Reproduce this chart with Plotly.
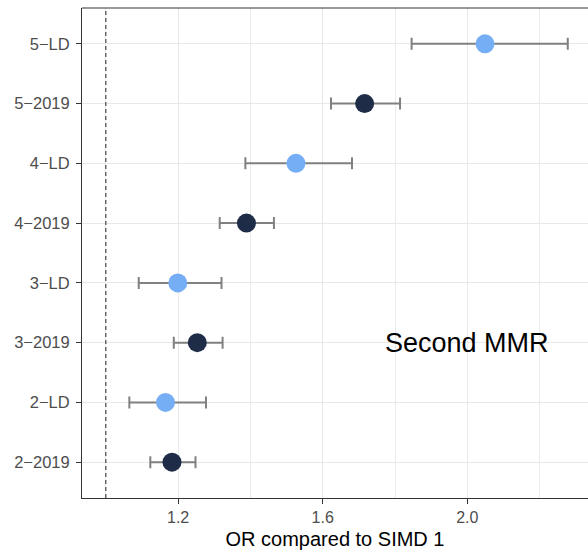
import plotly.graph_objects as go

# Odds ratios (with 95% CI) for second MMR uptake by SIMD quintile, vs SIMD 1
categories = ["2−2019", "2−LD", "3−2019", "3−LD", "4−2019", "4−LD", "5−2019", "5−LD"]
period = ["2019", "LD", "2019", "LD", "2019", "LD", "2019", "LD"]
or_est = [1.183, 1.165, 1.253, 1.199, 1.389, 1.526, 1.716, 2.049]
ci_low = [1.123, 1.065, 1.188, 1.091, 1.315, 1.386, 1.623, 1.846]
ci_high = [1.248, 1.277, 1.323, 1.320, 1.465, 1.681, 1.814, 2.278]

x_ticks = [1.2, 1.6, 2.0]
reference_or = 1.0

colours = {"2019": "#1F2C47", "LD": "#76AEF5"}

positions = list(range(1, len(categories) + 1))

fig = go.Figure()
for grp in ["2019", "LD"]:
    idx = [i for i, p in enumerate(period) if p == grp]
    fig.add_trace(go.Scatter(
        x=[or_est[i] for i in idx],
        y=[positions[i] for i in idx],
        mode="markers",
        marker=dict(size=19, color=colours[grp], line=dict(width=0)),
        error_x=dict(
            type="data", symmetric=False,
            array=[ci_high[i] - or_est[i] for i in idx],
            arrayminus=[or_est[i] - ci_low[i] for i in idx],
            color="#808080", thickness=2, width=6,
        ),
        showlegend=False,
        hoverinfo="skip",
    ))

# Dashed reference line at OR = 1
fig.add_shape(type="line", x0=reference_or, x1=reference_or, y0=0, y1=1,
              xref="x", yref="paper",
              line=dict(color="#222222", width=1, dash="4px,3px"))
# Top panel border
fig.add_shape(type="line", x0=0, x1=1, y0=1, y1=1, xref="paper", yref="paper",
              line=dict(color="#333333", width=1))

fig.add_annotation(x=2.0, y=3, xref="x", yref="y", text="Second MMR",
                   showarrow=False, font=dict(size=27, color="black"),
                   xanchor="center", yanchor="middle")

fig.update_xaxes(
    range=[0.934, 2.334],
    tickmode="array", tickvals=x_ticks, ticktext=[f"{v:.1f}" for v in x_ticks],
    showgrid=True, gridcolor="#E8E8E8", gridwidth=1.3,
    minor=dict(tickvals=[1.0, 1.4, 1.8, 2.2], showgrid=True,
               gridcolor="#EBEBEB", gridwidth=0.8, ticklen=0),
    showline=True, linecolor="#333333", linewidth=1,
    ticks="outside", ticklen=5, tickcolor="#333333", tickwidth=1,
    tickfont=dict(size=16, color="#4D4D4D"),
    zeroline=False,
    title=dict(text="OR compared to SIMD 1", font=dict(size=20, color="black"),
               standoff=6),
)
fig.update_yaxes(
    range=[0.4, 8.6],
    tickmode="array", tickvals=positions, ticktext=categories,
    showgrid=True, gridcolor="#E8E8E8", gridwidth=1.3,
    showline=True, linecolor="#333333", linewidth=1,
    ticks="outside", ticklen=5, tickcolor="#333333", tickwidth=1,
    ticklabelstandoff=3,
    tickfont=dict(size=16.5, color="#4D4D4D"),
    zeroline=False,
)

fig.update_layout(
    width=588, height=560,
    margin=dict(l=82, r=0, t=8, b=62, autoexpand=False),
    plot_bgcolor="white", paper_bgcolor="white",
    font=dict(family="Liberation Sans, Arial, sans-serif"),
)

fig.write_html("out.html")
